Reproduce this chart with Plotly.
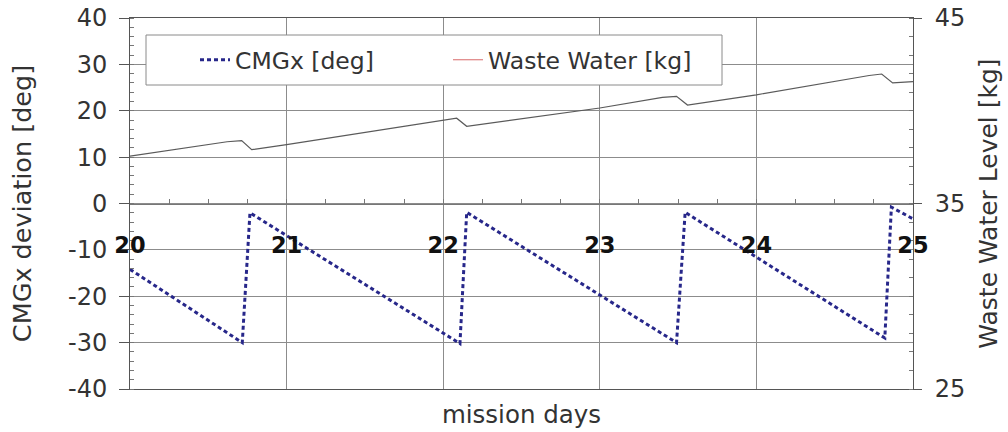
import plotly.graph_objects as go

# CMGx deviation: sawtooth of slow drift and periodic resets
cmg_day = [20.0, 20.717, 20.766, 22.107, 22.150, 23.490, 23.545, 24.820, 24.862, 25.0]
cmg_deg = [-14.2, -30.0, -2.0, -30.2, -1.9, -30.0, -1.9, -29.0, -0.8, -3.3]

# Waste water level, with the small dips after each dump event
ww_day = [20.0, 20.62, 20.713, 20.777, 21.0, 21.99, 22.086, 22.15, 23.0,
          23.40, 23.49, 23.56, 24.0, 24.72, 24.80, 24.87, 25.0]
ww_kg = [37.55, 38.33, 38.39, 37.90, 38.17, 39.47, 39.60, 39.16, 40.15,
         40.72, 40.78, 40.31, 40.86, 41.90, 41.98, 41.50, 41.57]

day_ticks = [20, 21, 22, 23, 24, 25]
deg_ticks = [-40, -30, -20, -10, 0, 10, 20, 30, 40]
level_ticks = [25, 35, 45]

FONT = "DejaVu Sans"
TXT = "#333333"
GRID = "#8c8c8c"
AXL = "#555555"

W, H = 1008, 432
L, R, T, B = 130, 95, 18, 43
pw, ph = W - L - R, H - T - B


def px_x(x):
    return (x - L) / pw


def px_y(y):
    return (H - B - y) / ph


fig = go.Figure()

fig.add_trace(go.Scatter(
    x=ww_day, y=ww_kg, yaxis="y2", mode="lines",
    line=dict(color="#5a5a5a", width=1.2),
    name="Waste Water [kg]", showlegend=False,
))
fig.add_trace(go.Scatter(
    x=cmg_day, y=cmg_deg, mode="lines",
    line=dict(color="#27278a", width=3, dash="4px,3px"),
    name="CMGx [deg]",
))
# legend key for the waste water series
fig.add_trace(go.Scatter(
    x=[None], y=[None], yaxis="y2", mode="lines",
    line=dict(color="#d86868", width=1),
    name="Waste Water [kg]",
))
# day labels along the zero line
fig.add_trace(go.Scatter(
    x=day_ticks, y=[None] * len(day_ticks), xaxis="x2", mode="markers",
    showlegend=False, hoverinfo="skip",
))

fig.update_layout(
    width=W, height=H,
    margin=dict(l=L, r=R, t=T, b=B, autoexpand=False),
    paper_bgcolor="white", plot_bgcolor="white",
    font=dict(family=FONT, size=24, color=TXT),
    xaxis=dict(
        range=[20, 25], dtick=1, showgrid=True, gridcolor=GRID, gridwidth=1,
        showticklabels=False, ticks="", zeroline=False,
        showline=True, linecolor=AXL, linewidth=1, mirror=True,
        title=dict(text="mission days", standoff=16, font=dict(size=24.5, color=TXT)),
    ),
    xaxis2=dict(
        overlaying="x", anchor="free", position=0.5, range=[20, 25],
        tickvals=day_ticks, ticktext=[str(d) for d in day_ticks],
        ticks="inside", ticklen=0, showgrid=False, zeroline=False,
        showline=True, linecolor="#777777", linewidth=1,
        minor=dict(dtick=0.25, ticks="inside", ticklen=5, tickcolor="#777777"),
        tickfont=dict(family=FONT, size=22.5, color="#111111", weight="bold"),
        ticklabelstandoff=21,
    ),
    yaxis=dict(
        range=[-40, 40], tickvals=deg_ticks, ticktext=[str(v) for v in deg_ticks],
        showgrid=True, gridcolor=GRID, gridwidth=1,
        zeroline=False, showline=True, linecolor=AXL, linewidth=1,
        ticks="outside", ticklen=10, tickcolor=AXL,
        minor=dict(dtick=2, ticks="inside", ticklen=4, tickcolor="#777777"),
        ticklabelstandoff=7,
        tickfont=dict(size=24),
        title=dict(text="CMGx deviation [deg]", standoff=29, font=dict(size=25.5, color=TXT)),
    ),
    yaxis2=dict(
        overlaying="y", side="right", range=[25, 45], tickvals=level_ticks,
        showgrid=False, zeroline=False, showline=True, linecolor=AXL, linewidth=1,
        ticks="outside", ticklen=8, tickcolor=AXL,
        minor=dict(dtick=1, ticks="inside", ticklen=4, tickcolor="#777777"),
        ticklabelstandoff=8,
        tickfont=dict(size=24),
        title=dict(text="Waste Water Level [kg]", standoff=15, font=dict(size=25, color=TXT)),
    ),
    legend=dict(
        orientation="h", x=px_x(195), xanchor="left", y=px_y(60), yanchor="middle",
        bgcolor="rgba(0,0,0,0)", borderwidth=0, entrywidth=208,
        font=dict(family=FONT, size=23.5, color=TXT), traceorder="normal",
    ),
    shapes=[dict(
        type="rect", xref="paper", yref="paper",
        x0=px_x(146), x1=px_x(722), y0=px_y(85), y1=px_y(35),
        fillcolor="white", line=dict(color="#8a8a8a", width=1), layer="above",
    )],
)

fig.write_html("out.html")
